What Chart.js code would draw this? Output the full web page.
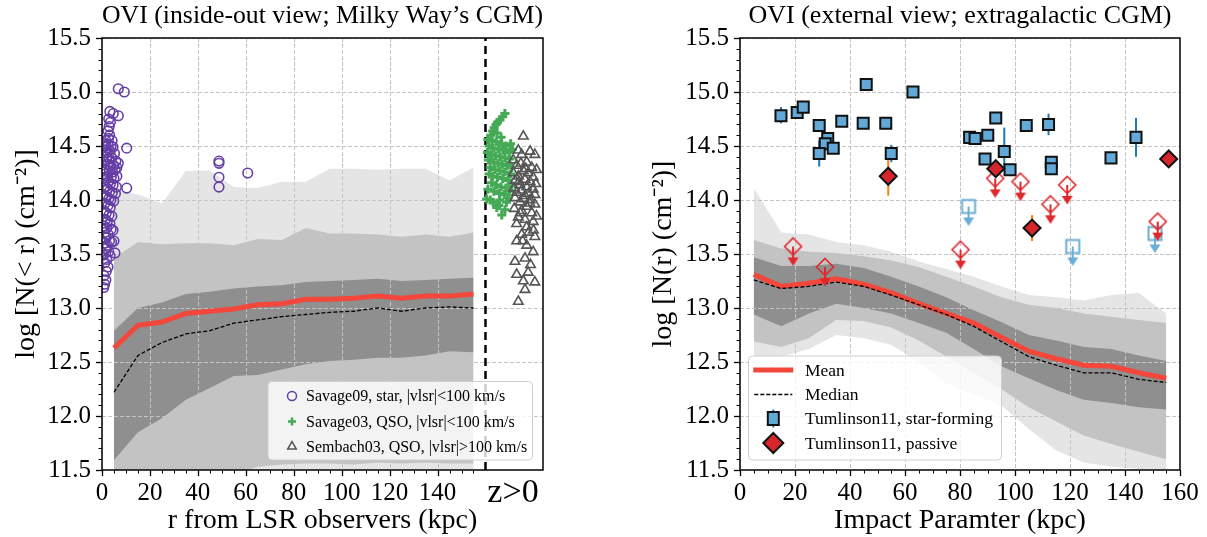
<!DOCTYPE html>
<html>
<head>
<meta charset="utf-8">
<title>OVI column density profiles</title>
<script src="https://cdn.jsdelivr.net/npm/chart.js@4.4.1/dist/chart.umd.min.js"></script>
<style>
  html, body { margin: 0; padding: 0; background: #fff; }
  #wrap { position: relative; width: 1207px; height: 537px; overflow: hidden; }
  canvas { position: absolute; top: 0; }
  #cL { left: 0; }
  #cR { left: 600px; }
</style>
</head>
<body>
<div id="wrap">
  <canvas id="cL" width="600" height="537"></canvas>
  <canvas id="cR" width="607" height="537"></canvas>
</div>
<script>
const FONT = "'Liberation Serif', 'Times New Roman', serif";

// ---- shared radial bins (kpc) ----
const binCenters = [5, 15, 25, 35, 45, 55, 65, 75, 85, 95, 105, 115, 125, 135, 145, 155];

// ---- Milky Way (inside-out) simulated percentile bands, mean and median ----
const mwLightHi = [14.10, 14.05, 13.97, 14.27, 14.27, 14.12, 14.11, 14.17, 14.17, 14.29, 14.29, 14.28, 14.29, 14.29, 14.18, 14.30];
const mwLightLo = [10.2, 10.4, 10.6, 10.7, 10.8, 10.9, 11.0, 11.1, 11.1, 11.2, 11.2, 11.2, 11.2, 11.3, 11.3, 11.3];
const mwMidHi   = [13.46, 13.61, 13.59, 13.60, 13.60, 13.58, 13.64, 13.63, 13.74, 13.69, 13.69, 13.68, 13.66, 13.68, 13.66, 13.70];
const mwMidLo   = [11.0, 11.1, 11.2, 11.3, 11.4, 11.45, 11.53, 11.55, 11.56, 11.56, 11.55, 11.57, 11.56, 11.57, 11.56, 11.56];
const mwDarkHi  = [12.79, 13.00, 13.05, 13.13, 13.15, 13.18, 13.20, 13.21, 13.24, 13.25, 13.26, 13.27, 13.25, 13.26, 13.27, 13.28];
const mwDarkLo  = [11.59, 11.85, 11.98, 12.15, 12.26, 12.37, 12.38, 12.43, 12.48, 12.51, 12.52, 12.54, 12.54, 12.56, 12.60, 12.59];
const mwMean    = [12.63, 12.84, 12.87, 12.95, 12.97, 12.99, 13.03, 13.04, 13.08, 13.08, 13.09, 13.11, 13.09, 13.11, 13.11, 13.13];
const mwMedian  = [12.22, 12.56, 12.68, 12.76, 12.79, 12.86, 12.89, 12.92, 12.94, 12.96, 12.97, 13.00, 12.97, 13.00, 13.01, 13.00];

// ---- external view simulated bands, mean and median ----
const exLightHi = [14.11, 13.70, 13.68, 13.61, 13.58, 13.52, 13.43, 13.36, 13.29, 13.20, 13.12, 13.10, 13.07, 13.12, 13.14, 12.95];
const exLightLo = [12.55, 12.55, 12.62, 12.75, 12.72, 12.66, 12.50, 12.30, 12.20, 12.10, 11.88, 11.68, 11.57, 11.53, 11.51, 11.50];
const exMidHi   = [13.63, 13.55, 13.52, 13.51, 13.48, 13.44, 13.38, 13.29, 13.20, 13.10, 13.03, 13.00, 12.95, 12.92, 12.89, 12.86];
const exMidLo   = [12.69, 12.64, 12.72, 12.89, 12.88, 12.82, 12.70, 12.55, 12.40, 12.25, 12.08, 11.95, 11.82, 11.74, 11.67, 11.60];
const exDarkHi  = [13.47, 13.39, 13.39, 13.41, 13.37, 13.29, 13.20, 13.10, 12.98, 12.87, 12.75, 12.70, 12.64, 12.62, 12.56, 12.51];
const exDarkLo  = [12.94, 12.83, 12.95, 13.04, 13.00, 12.95, 12.86, 12.77, 12.62, 12.46, 12.35, 12.24, 12.15, 12.12, 12.08, 12.06];
const exMean    = [13.31, 13.20, 13.23, 13.27, 13.22, 13.14, 13.04, 12.95, 12.86, 12.73, 12.60, 12.53, 12.47, 12.46, 12.40, 12.35];
const exMedian  = [13.26, 13.18, 13.20, 13.24, 13.20, 13.12, 13.03, 12.94, 12.83, 12.69, 12.55, 12.47, 12.40, 12.40, 12.34, 12.31];

// ---- Galactic observations: [r (kpc) or plotting position, log N] ----
const savage09 = [
  [6.8, 15.03], [9.3, 15.00],
  [3.3, 14.82], [4.7, 14.80], [6.8, 14.78], [2.8, 14.75], [3.5, 14.72], [3.0, 14.68], [2.5, 14.64], [3.2, 14.60],
  [2.7, 14.57], [4.2, 14.55], [1.6, 14.55], [10.3, 14.48], [10.3, 14.11],
  [0.8, 14.52], [1.5, 14.50], [2.6, 14.51], [3.8, 14.50], [4.6, 14.49], [1.2, 14.46], [2.2, 14.44], [3.4, 14.45],
  [5.2, 14.43], [0.6, 14.41], [1.9, 14.40], [2.9, 14.38], [4.1, 14.39], [5.8, 14.36], [6.8, 14.34], [1.1, 14.35],
  [2.4, 14.33], [3.6, 14.31], [4.8, 14.32], [0.7, 14.29], [1.7, 14.28], [3.1, 14.27], [4.4, 14.26], [5.5, 14.28],
  [6.2, 14.30], [1.3, 14.24], [2.1, 14.22], [3.9, 14.21], [5.0, 14.20], [6.2, 14.22], [0.9, 14.18], [2.7, 14.17],
  [3.5, 14.15], [4.6, 14.14], [6.0, 14.12], [1.6, 14.12], [2.3, 14.10], [3.2, 14.08], [4.3, 14.07], [5.6, 14.06],
  [0.6, 14.05], [1.9, 14.03], [2.8, 14.01], [3.7, 14.00], [4.9, 13.99], [1.2, 13.97], [2.5, 13.95], [3.4, 13.93],
  [0.8, 13.90], [1.8, 13.88], [2.9, 13.86], [4.1, 13.85], [1.4, 13.82], [2.2, 13.80], [3.3, 13.78], [0.7, 13.76],
  [2.0, 13.74], [3.8, 13.73], [4.6, 13.72], [1.1, 13.70], [2.6, 13.68], [1.7, 13.65], [3.1, 13.62], [5.0, 13.62],
  [0.9, 13.60], [2.3, 13.58], [4.0, 13.61], [1.5, 13.55], [5.4, 13.51], [2.8, 13.52], [0.6, 13.49], [3.4, 13.48],
  [2.0, 13.45], [1.2, 13.42], [2.5, 13.38], [1.8, 13.34], [0.8, 13.30], [1.6, 13.26], [1.1, 13.22], [0.7, 13.19],
  [48.8, 14.36], [48.8, 14.34], [48.8, 14.21], [48.8, 14.12], [60.8, 14.25]
];

const savage03 = [
  [168.1, 14.80], [167.2, 14.77], [166.0, 14.74], [165.0, 14.72], [164.4, 14.70], [163.6, 14.67], [163.0, 14.64],
  [162.2, 14.60], [164.8, 14.62], [166.5, 14.58], [161.0, 14.56], [162.8, 14.55], [164.5, 14.54], [166.8, 14.52],
  [168.5, 14.50], [170.5, 14.52], [161.5, 14.50], [163.2, 14.48], [165.5, 14.47], [167.5, 14.46], [169.8, 14.44],
  [171.2, 14.47], [160.8, 14.44], [162.5, 14.42], [164.2, 14.41], [166.2, 14.40], [168.2, 14.39], [170.2, 14.38],
  [161.2, 14.37], [163.5, 14.35], [165.2, 14.34], [167.0, 14.33], [169.0, 14.32], [171.0, 14.30], [162.0, 14.30],
  [164.0, 14.28], [166.0, 14.27], [168.0, 14.26], [170.5, 14.24], [161.5, 14.24], [163.0, 14.22], [165.0, 14.21],
  [167.2, 14.20], [169.5, 14.18], [162.5, 14.16], [164.5, 14.14], [166.5, 14.12], [168.5, 14.11], [171.0, 14.13],
  [161.0, 14.10], [163.5, 14.08], [165.8, 14.06], [167.8, 14.05], [170.0, 14.08], [160.5, 14.01], [162.0, 14.00],
  [163.2, 13.98], [166.0, 14.00], [168.8, 13.98], [164.7, 13.93], [168.1, 13.91], [166.8, 13.86], [165.5, 13.95],
  [169.5, 14.02]
];

const sembach03 = [
  [175.8, 14.59], [173.7, 14.46], [178.6, 14.45], [180.6, 14.42], [175.1, 14.42], [171.6, 14.37], [177.2, 14.35],
  [173.0, 14.32], [179.3, 14.30], [181.3, 14.28], [175.8, 14.27], [171.6, 14.25], [177.8, 14.25], [173.7, 14.22],
  [179.9, 14.21], [176.5, 14.19], [172.3, 14.18], [178.6, 14.17], [181.0, 14.15], [174.4, 14.14], [177.2, 14.12],
  [171.9, 14.11], [179.9, 14.10], [175.1, 14.09], [173.0, 14.07], [178.0, 14.06], [180.6, 14.05], [176.5, 14.04],
  [172.3, 14.02], [178.6, 14.00], [174.4, 13.98], [180.6, 13.96], [177.2, 13.94], [172.0, 13.92], [175.1, 13.90],
  [179.3, 13.88], [181.3, 13.85], [173.7, 13.84], [176.5, 13.82], [179.9, 13.80], [173.0, 13.78], [177.2, 13.75],
  [180.0, 13.72], [175.1, 13.68], [180.6, 13.66], [173.0, 13.62], [177.2, 13.58], [179.9, 13.52], [176.5, 13.46],
  [172.3, 13.43], [173.0, 13.31], [177.8, 13.33], [180.6, 13.24], [176.5, 13.17], [173.7, 13.06], [174.8, 14.34],
  [176.8, 14.29], [174.0, 14.17], [176.0, 14.01], [178.5, 13.97], [174.5, 13.88], [178.0, 13.70], [175.5, 13.62],
  [178.8, 13.40], [175.8, 13.25]
];

// position of the z>0 separator on the r axis (kpc)
const zBoundary = 160;

// ---- Tumlinson+11 COS-Halos: [impact parameter, log N, err low, err high] ----
const sfDetections = [
  [14.9, 14.78, 14.71, 14.86], [20.8, 14.81, null, null], [23.0, 14.86, null, null], [28.8, 14.69, null, null],
  [37.0, 14.73, null, null], [45.9, 15.07, null, null], [62.9, 15.00, null, null], [44.8, 14.71, null, null],
  [53.0, 14.71, null, null], [55.0, 14.43, 14.35, 14.51], [31.9, 14.57, null, null], [31.0, 14.52, null, null],
  [33.9, 14.48, null, null], [28.8, 14.43, 14.31, 14.55], [83.5, 14.58, null, null], [85.5, 14.57, null, null],
  [90.1, 14.60, null, null], [89.1, 14.38, null, null], [93.0, 14.76, null, null], [96.1, 14.45, 14.28, 14.67],
  [98.2, 14.28, null, null], [104.1, 14.69, null, null], [112.2, 14.70, 14.60, 14.80], [113.2, 14.35, null, null],
  [113.2, 14.29, null, null], [134.9, 14.39, null, null], [144.0, 14.58, 14.40, 14.76]
];
const passiveDetections = [
  [53.9, 14.22, 14.04, 14.37], [93.0, 14.29, null, null], [106.2, 13.74, 13.62, 13.86], [155.9, 14.38, null, null]
];
const passiveUpperLimits = [
  [19.3, 13.57], [30.9, 13.38], [80.2, 13.54], [92.8, 14.20], [102.0, 14.17], [112.9, 13.96], [119.0, 14.14], [151.9, 13.80]
];
const sfUpperLimits = [[83.1, 13.94], [121.0, 13.57], [150.9, 13.69]];

// ---- axis ticks ----
const yTicks = [11.5, 12.0, 12.5, 13.0, 13.5, 14.0, 14.5, 15.0, 15.5];
const mwXTicks = [0, 20, 40, 60, 80, 100, 120, 140];
const exXTicks = [0, 20, 40, 60, 80, 100, 120, 140, 160];

// ---- colours ----
const C = {
  light: '#e5e5e5', mid: '#c3c3c3', dark: '#8f8f8f',
  mean: '#f2473a', purple: '#643ea6', green: '#45aa56', tri: '#555555',
  sfFill: '#62a9d7', sfErr: '#1f77b4', sfLimit: '#6aaed6',
  passFill: '#d6262b', passErr: '#ff7f0e', passLimit: '#e0282c',
  grid: '#c4c4c4'
};

const toPoints = arr => arr.map(r => ({ x: r[0], y: r[1] }));
const onBins = ys => binCenters.map((x, i) => ({ x, y: ys[i] }));

function bandPair(hi, lo, color, label) {
  return [
    { label, data: onBins(hi), fill: '+1', backgroundColor: color, borderColor: 'rgba(0,0,0,0)',
      borderWidth: 0, pointRadius: 0, tension: 0 },
    { label: label + ' lower edge', data: onBins(lo), fill: false, borderColor: 'rgba(0,0,0,0)',
      borderWidth: 0, pointRadius: 0, tension: 0 }
  ];
}

// marker with a downward arrow, used for upper limits
function upperLimitGlyph(shape, color) {
  const c = document.createElement('canvas');
  c.width = 24; c.height = 46;
  const g = c.getContext('2d');
  const cx = 12, cy = 23;
  g.strokeStyle = color; g.fillStyle = color;
  if (shape === 'diamond') {
    g.lineWidth = 1.6;
    g.beginPath();
    g.moveTo(cx, cy - 8.5); g.lineTo(cx + 8.5, cy); g.lineTo(cx, cy + 8.5); g.lineTo(cx - 8.5, cy); g.closePath();
    g.stroke();
  } else {
    g.lineWidth = 2;
    g.strokeRect(cx - 6.5, cy - 6.5, 13, 13);
  }
  g.lineWidth = 2;
  g.beginPath(); g.moveTo(cx, cy); g.lineTo(cx, cy + 12); g.stroke();
  g.beginPath(); g.moveTo(cx - 5.5, cy + 11); g.lineTo(cx + 5.5, cy + 11); g.lineTo(cx, cy + 19.5); g.closePath(); g.fill();
  return c;
}

// ---- small drawing helpers for legend swatches ----
const mark = {
  circle(ctx, x, y) { ctx.strokeStyle = C.purple; ctx.lineWidth = 1.5; ctx.beginPath(); ctx.arc(x, y, 4.5, 0, Math.PI * 2); ctx.stroke(); },
  plus(ctx, x, y) { ctx.strokeStyle = C.green; ctx.lineWidth = 2.5; ctx.beginPath(); ctx.moveTo(x - 4, y); ctx.lineTo(x + 4, y); ctx.moveTo(x, y - 4); ctx.lineTo(x, y + 4); ctx.stroke(); },
  triangle(ctx, x, y) {
    ctx.strokeStyle = C.tri; ctx.lineWidth = 1.5; ctx.beginPath();
    for (let k = 0; k < 3; k++) { const a = k * 2 * Math.PI / 3; const px = x + Math.sin(a) * 5, py = y - Math.cos(a) * 5; k ? ctx.lineTo(px, py) : ctx.moveTo(px, py); }
    ctx.closePath(); ctx.stroke();
  },
  meanLine(ctx, x, y) { ctx.strokeStyle = C.mean; ctx.lineWidth = 5; ctx.beginPath(); ctx.moveTo(x - 20, y); ctx.lineTo(x + 20, y); ctx.stroke(); },
  medianLine(ctx, x, y) { ctx.strokeStyle = '#000'; ctx.lineWidth = 1.3; ctx.setLineDash([4, 2]); ctx.beginPath(); ctx.moveTo(x - 19, y); ctx.lineTo(x + 19, y); ctx.stroke(); ctx.setLineDash([]); },
  square(ctx, x, y) {
    ctx.strokeStyle = C.sfErr; ctx.lineWidth = 2; ctx.beginPath(); ctx.moveTo(x, y - 9); ctx.lineTo(x, y + 9); ctx.stroke();
    ctx.fillStyle = C.sfFill; ctx.fillRect(x - 5.5, y - 6.5, 11, 13);
    ctx.strokeStyle = '#111'; ctx.lineWidth = 2; ctx.strokeRect(x - 5.5, y - 6.5, 11, 13);
  },
  diamond(ctx, x, y) {
    ctx.fillStyle = C.passFill; ctx.strokeStyle = '#111'; ctx.lineWidth = 2;
    ctx.beginPath(); ctx.moveTo(x, y - 10); ctx.lineTo(x + 10, y); ctx.lineTo(x, y + 10); ctx.lineTo(x - 10, y); ctx.closePath();
    ctx.fill(); ctx.stroke();
  }
};

function roundedBox(ctx, x, y, w, h, r) {
  ctx.beginPath();
  ctx.moveTo(x + r, y);
  ctx.arcTo(x + w, y, x + w, y + h, r);
  ctx.arcTo(x + w, y + h, x, y + h, r);
  ctx.arcTo(x, y + h, x, y, r);
  ctx.arcTo(x, y, x + w, y, r);
  ctx.closePath();
}

// grid, error bars, frame, tick marks and legend
function decorPlugin(cfg) {
  return {
    id: 'decor',
    beforeDatasetsDraw(chart) {
      const { ctx, chartArea: a, scales: { x, y } } = chart;
      ctx.save();
      ctx.beginPath(); ctx.rect(a.left, a.top, a.right - a.left, a.bottom - a.top); ctx.clip();
      ctx.strokeStyle = C.grid; ctx.lineWidth = 1; ctx.setLineDash([4, 2]);
      x.ticks.forEach(t => {
        const px = Math.round(x.getPixelForValue(t.value)) + 0.5;
        ctx.beginPath(); ctx.moveTo(px, a.top); ctx.lineTo(px, a.bottom); ctx.stroke();
      });
      y.ticks.forEach(t => {
        const py = Math.round(y.getPixelForValue(t.value)) + 0.5;
        ctx.beginPath(); ctx.moveTo(a.left, py); ctx.lineTo(a.right, py); ctx.stroke();
      });
      ctx.setLineDash([]);
      (cfg.errorBars || []).forEach(set => {
        ctx.strokeStyle = set.color; ctx.lineWidth = 2;
        set.rows.forEach(r => {
          if (r[2] == null) return;
          const px = x.getPixelForValue(r[0]);
          ctx.beginPath(); ctx.moveTo(px, y.getPixelForValue(r[2])); ctx.lineTo(px, y.getPixelForValue(r[3])); ctx.stroke();
        });
      });
      ctx.restore();
    },
    afterDraw(chart) {
      const { ctx, chartArea: a, scales: { x, y } } = chart;
      ctx.save();
      // tick marks (outward)
      ctx.strokeStyle = '#000';
      for (let v = 11.5; v <= 15.5001; v += 0.1) {
        const major = Math.abs(v * 2 - Math.round(v * 2)) < 1e-6;
        const py = Math.round(y.getPixelForValue(v)) + 0.5;
        ctx.lineWidth = major ? 1.3 : 1;
        ctx.beginPath(); ctx.moveTo(a.left, py); ctx.lineTo(a.left - (major ? 6 : 3.5), py); ctx.stroke();
      }
      for (let v = 0; v <= cfg.xMinorMax + 0.001; v += 5) {
        const major = v % 20 === 0 && v <= cfg.xMajorMax;
        const px = Math.round(x.getPixelForValue(v)) + 0.5;
        ctx.lineWidth = major ? 1.3 : 1;
        ctx.beginPath(); ctx.moveTo(px, a.bottom); ctx.lineTo(px, a.bottom + (major ? 6 : 3.5)); ctx.stroke();
      }
      // frame
      ctx.lineWidth = 1.5;
      ctx.strokeRect(a.left, a.top, a.right - a.left, a.bottom - a.top);
      // legend
      const L = cfg.legend;
      roundedBox(ctx, L.x0, L.y0, L.x1 - L.x0, L.y1 - L.y0, 4);
      ctx.fillStyle = 'rgba(255,255,255,0.8)'; ctx.fill();
      ctx.strokeStyle = '#cfcfcf'; ctx.lineWidth = 1; ctx.stroke();
      ctx.font = L.size + 'px ' + FONT;
      ctx.textBaseline = 'middle'; ctx.textAlign = 'left';
      L.rows.forEach(r => {
        ctx.save(); mark[r.mark](ctx, L.mx, r.y); ctx.restore();
        ctx.fillStyle = '#000'; ctx.fillText(r.label, L.tx, r.y + 1);
      });
      // extra text
      (cfg.texts || []).forEach(t => {
        ctx.font = t.size + 'px ' + FONT; ctx.fillStyle = '#000';
        ctx.textAlign = 'center'; ctx.textBaseline = 'middle';
        ctx.fillText(t.text, t.x, t.y);
      });
      ctx.restore();
    }
  };
}

function yScale(width, titleText, titlePad) {
  return {
    type: 'linear', min: 11.5, max: 15.5,
    afterBuildTicks: s => { s.ticks = yTicks.map(v => ({ value: v })); },
    afterFit: s => { s.width = width; },
    grid: { display: false, drawTicks: false },
    border: { display: false },
    ticks: { font: { family: FONT, size: 25 }, color: '#000', padding: 11, callback: v => Number(v).toFixed(1) },
    title: { display: true, text: titleText, color: '#000', font: { family: FONT, size: 28 }, padding: { top: titlePad, bottom: 0 } }
  };
}

function xScale(max, ticks, titleText) {
  return {
    type: 'linear', min: 0, max,
    afterBuildTicks: s => { s.ticks = ticks.map(v => ({ value: v })); },
    afterFit: s => { s.height = 67; },
    grid: { display: false, drawTicks: false },
    border: { display: false },
    ticks: { font: { family: FONT, size: 25 }, color: '#000', padding: 8, maxRotation: 0, autoSkip: false },
    title: { display: true, text: titleText, color: '#000', font: { family: FONT, size: 28 }, padding: { top: 0, bottom: 0 } }
  };
}

function baseOptions(titleText, padding, xs, ys) {
  return {
    responsive: false, animation: false, devicePixelRatio: 1,
    layout: { padding },
    events: [],
    scales: { x: xs, y: ys },
    plugins: {
      legend: { display: false },
      tooltip: { enabled: false },
      filler: { drawTime: 'beforeDatasetsDraw' },
      title: { display: true, text: titleText, fullSize: false, color: '#000',
               font: { family: FONT, size: 26, weight: 'normal' }, padding: { top: 0.5, bottom: 6.3 } }
    }
  };
}

// ---------------- left panel: Milky Way CGM ----------------
new Chart(document.getElementById('cL'), {
  type: 'line',
  data: {
    datasets: [
      { label: 'Sembach03, QSO, |vlsr|>100 km/s', data: toPoints(sembach03), showLine: false,
        pointStyle: 'triangle', pointRadius: 5.5, pointBorderWidth: 1.6, pointBorderColor: C.tri, pointBackgroundColor: 'rgba(0,0,0,0)' },
      { label: 'Savage03, QSO, |vlsr|<100 km/s', data: toPoints(savage03), showLine: false,
        pointStyle: 'cross', pointRadius: 4.5, pointBorderWidth: 3, pointBorderColor: C.green, pointBackgroundColor: C.green },
      { label: 'Savage09, star, |vlsr|<100 km/s', data: toPoints(savage09), showLine: false,
        pointStyle: 'circle', pointRadius: 4.8, pointBorderWidth: 1.6, pointBorderColor: C.purple, pointBackgroundColor: 'rgba(0,0,0,0)' },
      { label: 'z>0 boundary', data: [{ x: zBoundary, y: 11.5 }, { x: zBoundary, y: 15.5 }],
        borderColor: '#000', borderWidth: 2.5, borderDash: [8, 5], pointRadius: 0, fill: false },
      { label: 'Median', data: onBins(mwMedian), borderColor: '#000', borderWidth: 1.3, borderDash: [4, 2], pointRadius: 0, fill: false, tension: 0 },
      { label: 'Mean', data: onBins(mwMean), borderColor: C.mean, borderWidth: 5, pointRadius: 0, fill: false, tension: 0 },
      ...bandPair(mwDarkHi, mwDarkLo, C.dark, 'inner band'),
      ...bandPair(mwMidHi, mwMidLo, C.mid, 'middle band'),
      ...bandPair(mwLightHi, mwLightLo, C.light, 'outer band')
    ]
  },
  options: baseOptions('OVI (inside-out view; Milky Way\u2019s CGM)', { left: 0, right: 57, top: 0, bottom: 0 },
    xScale(184, mwXTicks, 'r from LSR observers (kpc)'),
    yScale(102, 'log [N(< r) (cm\u207B\u00B2)]', 10.2)),
  plugins: [decorPlugin({
    xMinorMax: 155, xMajorMax: 140,
    legend: {
      x0: 268, y0: 381.5, x1: 532.5, y1: 460, mx: 292, tx: 306, size: 16,
      rows: [
        { mark: 'circle', label: 'Savage09, star, |vlsr|<100 km/s', y: 396 },
        { mark: 'plus', label: 'Savage03, QSO, |vlsr|<100 km/s', y: 421.5 },
        { mark: 'triangle', label: 'Sembach03, QSO, |vlsr|>100 km/s', y: 446.5 }
      ]
    },
    texts: [{ text: 'z>0', x: 513, y: 493, size: 34 }]
  })]
});

// ---------------- right panel: extragalactic CGM ----------------
new Chart(document.getElementById('cR'), {
  type: 'line',
  data: {
    datasets: [
      { label: 'Tumlinson11, passive', data: toPoints(passiveDetections), showLine: false,
        pointStyle: 'rectRot', pointRadius: 8.5, pointBorderWidth: 2, pointBorderColor: '#111', pointBackgroundColor: C.passFill },
      { label: 'Tumlinson11, star-forming', data: toPoints(sfDetections), showLine: false,
        pointStyle: 'rect', pointRadius: 7.8, pointBorderWidth: 2, pointBorderColor: '#111', pointBackgroundColor: C.sfFill },
      { label: 'passive upper limits', data: toPoints(passiveUpperLimits), showLine: false,
        pointStyle: upperLimitGlyph('diamond', C.passLimit), pointRadius: 10 },
      { label: 'star-forming upper limits', data: toPoints(sfUpperLimits), showLine: false,
        pointStyle: upperLimitGlyph('square', C.sfLimit), pointRadius: 10 },
      { label: 'Median', data: onBins(exMedian), borderColor: '#000', borderWidth: 1.3, borderDash: [4, 2], pointRadius: 0, fill: false, tension: 0 },
      { label: 'Mean', data: onBins(exMean), borderColor: C.mean, borderWidth: 5, pointRadius: 0, fill: false, tension: 0 },
      ...bandPair(exDarkHi, exDarkLo, C.dark, 'inner band'),
      ...bandPair(exMidHi, exMidLo, C.mid, 'middle band'),
      ...bandPair(exLightHi, exLightLo, C.light, 'outer band')
    ]
  },
  options: baseOptions('OVI (external view; extragalactic CGM)', { left: 36, right: 27, top: 0, bottom: 0 },
    xScale(160, exXTicks, 'Impact Paramter (kpc)'),
    yScale(104, 'log [N(r) (cm\u207B\u00B2)]', 11.2)),
  plugins: [decorPlugin({
    xMinorMax: 160, xMajorMax: 160,
    errorBars: [
      { color: C.sfErr, rows: sfDetections },
      { color: C.passErr, rows: passiveDetections }
    ],
    legend: {
      x0: 148.5, y0: 356, x1: 401.5, y1: 460, mx: 173.3, tx: 205, size: 17.5,
      rows: [
        { mark: 'meanLine', label: 'Mean', y: 370 },
        { mark: 'medianLine', label: 'Median', y: 394.5 },
        { mark: 'square', label: 'Tumlinson11, star-forming', y: 418.5 },
        { mark: 'diamond', label: 'Tumlinson11, passive', y: 443 }
      ]
    }
  })]
});
</script>
</body>
</html>
